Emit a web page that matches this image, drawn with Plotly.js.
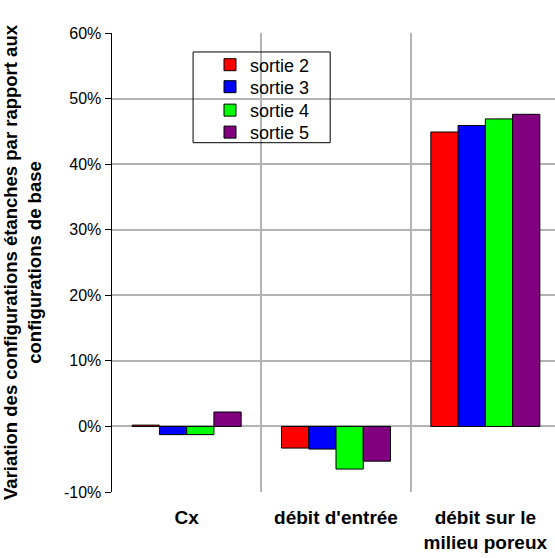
<!DOCTYPE html>
<html>
<head>
<meta charset="utf-8">
<script src="https://cdn.plot.ly/plotly-3.0.1.min.js"></script>
<style>
html,body{margin:0;padding:0;overflow:hidden;background:#fff;}
#chart{width:560px;height:558px;}
</style>
</head>
<body>
<div id="chart"></div>
<script>
var categories = ["Cx", "débit d'entrée", "débit sur le<br>milieu poreux"];
var seriesNames = ["sortie 2", "sortie 3", "sortie 4", "sortie 5"];
var sortie2 = [0.002, -0.033, 0.449];
var sortie3 = [-0.0125, -0.0345, 0.459];
var sortie4 = [-0.0125, -0.065, 0.469];
var sortie5 = [0.022, -0.053, 0.476];
var yTicks = [-0.1, 0, 0.1, 0.2, 0.3, 0.4, 0.5, 0.6];
var yTickText = ["-10%", "0%", "10%", "20%", "30%", "40%", "50%", "60%"];
var colors = ["#FF0000", "#0000FF", "#00FF00", "#800080"];

var allSeries = [sortie2, sortie3, sortie4, sortie5];
var font = "Liberation Sans, Arial, sans-serif";
var legendIds = ["legend", "legend2", "legend3", "legend4"];
var legendY = [0.9303, 0.8824, 0.8313, 0.7834];

var traces = allSeries.map(function (vals, i) {
  return {
    type: "bar",
    name: seriesNames[i],
    x: categories,
    y: vals,
    legend: legendIds[i],
    marker: {color: colors[i], line: {color: "#000000", width: 1}},
    hoverinfo: "none"
  };
});
// invisible trace on overlay axis for category-boundary gridlines
traces.push({
  type: "scatter", x: [0], y: [0], xaxis: "x2", mode: "markers",
  marker: {opacity: 0}, showlegend: false, hoverinfo: "skip"
});

var layout = {
  width: 560, height: 558,
  margin: {l: 112, r: 0, t: 33, b: 66},
  paper_bgcolor: "#ffffff", plot_bgcolor: "#ffffff",
  barmode: "group", bargap: 0.27, bargroupgap: 0,
  font: {family: font, color: "#000000"},
  showlegend: true,
  shapes: [{
    type: "rect", xref: "paper", yref: "paper",
    x0: 0.181, x1: 0.487, y0: 0.761, y1: 0.9587,
    line: {color: "#000000", width: 1}, fillcolor: "rgba(0,0,0,0)", layer: "above"
  }],
  xaxis: {
    type: "category",
    showgrid: false, zeroline: false, showline: false,
    ticks: "", ticklabelstandoff: 12,
    tickfont: {family: font, size: 19, color: "#000000", weight: "bold"},
    fixedrange: true
  },
  xaxis2: {
    overlaying: "x", range: [-0.5, 2.5], tick0: 0.5, dtick: 1,
    showgrid: true, gridcolor: "#b3b3b3", gridwidth: 2,
    showticklabels: false, zeroline: false, showline: false, ticks: "",
    fixedrange: true
  },
  yaxis: {
    range: [-0.1, 0.6], tickmode: "array", tickvals: yTicks, ticktext: yTickText,
    showgrid: true, gridcolor: "#b3b3b3", gridwidth: 2,
    zeroline: true, zerolinecolor: "#b3b3b3", zerolinewidth: 2,
    showline: true, linecolor: "#000000", linewidth: 1.5,
    ticks: "outside", ticklen: 6, tickcolor: "#000000",
    tickfont: {family: font, size: 16, color: "#000000"},
    title: {
      text: "Variation des configurations étanches par rapport aux<br>configurations de base",
      font: {family: font, size: 18.5, color: "#000000", weight: "bold"},
      standoff: 17
    },
    automargin: false, fixedrange: true
  }
};

legendIds.forEach(function (id, i) {
  layout[id] = {
    x: 0.21875, y: legendY[i], xanchor: "left", yanchor: "middle",
    bgcolor: "rgba(0,0,0,0)", borderwidth: 0,
    font: {family: font, size: 18, color: "#000000"}
  };
});

Plotly.newPlot("chart", traces, layout, {displayModeBar: false, staticPlot: true});
</script>
</body>
</html>
